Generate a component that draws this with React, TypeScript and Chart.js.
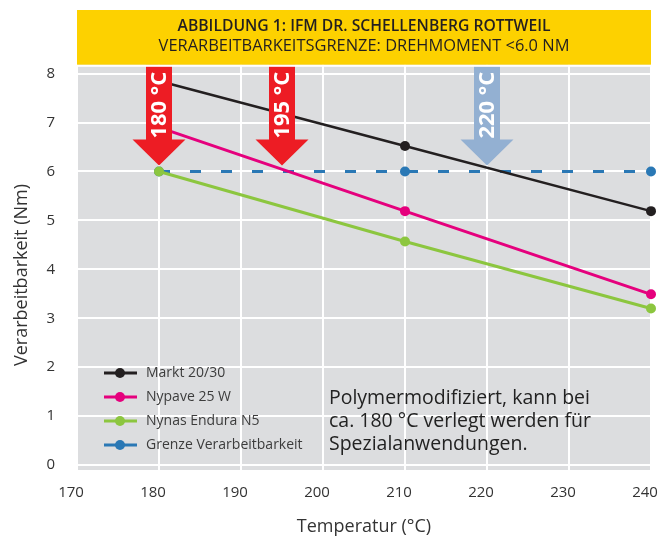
import React, { useEffect, useRef } from "react";
import { Chart, registerables } from "chart.js";

Chart.register(...registerables);

// ---------- data ----------
const temperatures = [180, 210, 240];
const markt2030 = [7.85, 6.52, 5.19];
const nypave25W = [6.9, 5.19, 3.49];
const nynasEnduraN5 = [6.0, 4.57, 3.2];
const grenzeVerarbeitbarkeit = [6.0, 6.0, 6.0];

const seriesNames = ["Markt 20/30", "Nypave 25 W", "Nynas Endura N5", "Grenze Verarbeitbarkeit"];
const seriesColors = ["#231F20", "#E5007D", "#8CC63F", "#2A78B5"];

const xTickValues = [170, 180, 190, 200, 210, 220, 230, 240];
const yTickValues = [0, 1, 2, 3, 4, 5, 6, 7, 8];

const arrowTemps = [180, 195, 220];
const arrowLabels = ["180 °C", "195 °C", "220 °C"];
const arrowColors = ["#ED1C24", "#ED1C24", "#93B0D2"];

const limitValue = 6.0;
const titleLines = ["ABBILDUNG 1: IFM DR. SCHELLENBERG ROTTWEIL", "VERARBEITBARKEITSGRENZE: DREHMOMENT <6.0 NM"];
const noteLines = ["Polymermodifiziert, kann bei", "ca. 180 °C verlegt werden für", "Spezialanwendungen."];
const xTitle = "Temperatur (°C)";
const yTitle = "Verarbeitbarkeit (Nm)";

// ---------- style ----------
const FONT = '"Open Sans", "Noto Sans", sans-serif';
const plotBg = "#DCDDDF";
const bannerYellow = "#FDD100";
const textColor = "#333333";

function fitFont(ctx: CanvasRenderingContext2D, text: string, weight: string, target: number) {
  let size = 15;
  ctx.font = `${weight} ${size}px ${FONT}`;
  const w = ctx.measureText(text).width;
  size = size * (target / w);
  return `${weight} ${size.toFixed(2)}px ${FONT}`;
}

const decorPlugin = {
  id: "decor",
  beforeDraw(chart: any) {
    const { ctx, chartArea: a } = chart;
    ctx.save();
    ctx.fillStyle = plotBg;
    ctx.fillRect(a.left, a.top, a.right - a.left, a.bottom - a.top);
    ctx.restore();
  },
  afterDatasetsDraw(chart: any) {
    const { ctx, chartArea: a, scales } = chart;
    const x = scales.x;
    const y = scales.y;
    const w = a.right - a.left;
    const bannerBottom = y.getPixelForValue(8.18);
    ctx.save();

    // arrows
    arrowTemps.forEach((t, i) => {
      const cx = x.getPixelForValue(t);
      const tip = y.getPixelForValue(limitValue) - 6;
      const headBase = tip - 26;
      ctx.fillStyle = arrowColors[i];
      ctx.beginPath();
      ctx.moveTo(cx - 13, bannerBottom);
      ctx.lineTo(cx + 13, bannerBottom);
      ctx.lineTo(cx + 13, headBase);
      ctx.lineTo(cx + 26.5, headBase);
      ctx.lineTo(cx, tip);
      ctx.lineTo(cx - 26.5, headBase);
      ctx.lineTo(cx - 13, headBase);
      ctx.closePath();
      ctx.fill();
      ctx.save();
      ctx.translate(cx + 1, (bannerBottom + headBase) / 2 + 3);
      ctx.rotate(-Math.PI / 2);
      ctx.fillStyle = "#FFFFFF";
      ctx.font = `bold 22px ${FONT}`;
      ctx.textAlign = "center";
      ctx.textBaseline = "middle";
      ctx.fillText(arrowLabels[i], 0, 0);
      ctx.restore();
    });

    // banner
    ctx.fillStyle = bannerYellow;
    ctx.fillRect(a.left, a.top, w, bannerBottom - a.top);
    ctx.fillStyle = "#FFFFFF";
    ctx.fillRect(a.left, bannerBottom, w, 2);
    const cxBanner = (a.left + a.right) / 2;
    ctx.fillStyle = "#231F20";
    ctx.textAlign = "center";
    ctx.textBaseline = "middle";
    ctx.font = fitFont(ctx, titleLines[0], "600", 373);
    ctx.fillText(titleLines[0], cxBanner, a.top + 17);
    ctx.font = fitFont(ctx, titleLines[1], "400", 411);
    ctx.fillText(titleLines[1], cxBanner, a.top + 36);

    // legend
    ctx.textAlign = "left";
    const legendOffsets = [97, 73, 49, 25];
    seriesNames.forEach((name, i) => {
      const ly = a.bottom - legendOffsets[i];
      ctx.strokeStyle = seriesColors[i];
      ctx.lineWidth = 3;
      ctx.beginPath();
      ctx.moveTo(a.left + 27, ly);
      ctx.lineTo(a.left + 60, ly);
      ctx.stroke();
      ctx.fillStyle = seriesColors[i];
      ctx.beginPath();
      ctx.arc(a.left + 43, ly, 5, 0, Math.PI * 2);
      ctx.fill();
      ctx.fillStyle = "#3C3C3C";
      ctx.font = `400 14px ${FONT}`;
      ctx.fillText(name, a.left + 69, ly);
    });

    // note
    ctx.fillStyle = "#222222";
    ctx.font = fitFont(ctx, noteLines[0], "500", 261);
    const noteOffsets = [72, 49, 26];
    noteLines.forEach((line, i) => {
      ctx.fillText(line, a.left + 252, a.bottom - noteOffsets[i]);
    });

    // y-axis title
    ctx.save();
    ctx.translate(22, 275);
    ctx.rotate(-Math.PI / 2);
    ctx.textAlign = "center";
    ctx.fillStyle = textColor;
    ctx.font = `400 18px ${FONT}`;
    ctx.fillText(yTitle, 0, 0);
    ctx.restore();

    ctx.restore();
  },
};

export default function App() {
  const canvasRef = useRef<HTMLCanvasElement | null>(null);

  useEffect(() => {
    if (!canvasRef.current) return;
    const makeSeries = (values: number[]) => temperatures.map((t, i) => ({ x: t, y: values[i] }));
    const allValues = [markt2030, nypave25W, nynasEnduraN5, grenzeVerarbeitbarkeit];
    const chart = new Chart(canvasRef.current, {
      type: "line",
      data: {
        datasets: allValues.map((vals, i) => ({
          label: seriesNames[i],
          data: makeSeries(vals),
          borderColor: seriesColors[i],
          backgroundColor: seriesColors[i],
          pointBackgroundColor: seriesColors[i],
          pointBorderWidth: 0,
          pointRadius: 5,
          borderWidth: i === 0 ? 2.5 : 3,
          borderDash: i === 3 ? [11, 20] : [],
          tension: 0,
          clip: false as any,
        })),
      },
      options: {
        responsive: false,
        animation: false,
        layout: { padding: { top: 10, right: 8, left: 0, bottom: 0 } },
        plugins: {
          legend: { display: false },
          tooltip: { enabled: false },
        },
        scales: {
          x: {
            type: "linear",
            min: 170,
            max: 240,
            afterBuildTicks: (scale: any) => {
              scale.ticks = xTickValues.map((v) => ({ value: v }));
            },
            afterFit: (scale: any) => {
              scale.height = 69;
              scale.paddingLeft = 0;
              scale.paddingRight = 0;
            },
            grid: { color: "#FFFFFF", lineWidth: 2, drawTicks: false },
            border: { display: false },
            ticks: {
              padding: 14,
              labelOffset: -6,
              color: textColor,
              font: { family: FONT, size: 15 },
              maxRotation: 0,
              autoSkip: false,
            },
            title: {
              display: true,
              text: xTitle,
              color: textColor,
              font: { family: FONT, size: 18 },
              padding: { top: 0, bottom: 1 },
            },
          },
          y: {
            type: "linear",
            min: -0.1,
            max: 9.3,
            afterBuildTicks: (scale: any) => {
              scale.ticks = yTickValues.map((v) => ({ value: v }));
            },
            afterFit: (scale: any) => {
              scale.width = 77;
              scale.paddingTop = 0;
              scale.paddingBottom = 0;
            },
            grid: { color: "#FFFFFF", lineWidth: 2, drawTicks: false },
            border: { display: false },
            ticks: {
              padding: 22,
              color: textColor,
              font: { family: FONT, size: 15 },
              autoSkip: false,
            },
            title: { display: false },
          },
        },
      },
      plugins: [decorPlugin],
    });
    return () => chart.destroy();
  }, []);

  return (
    <div style={{ position: "absolute", left: 0, top: 0, width: 659, height: 539, background: "#FFFFFF" }}>
      <canvas ref={canvasRef} width={659} height={539} />
    </div>
  );
}
